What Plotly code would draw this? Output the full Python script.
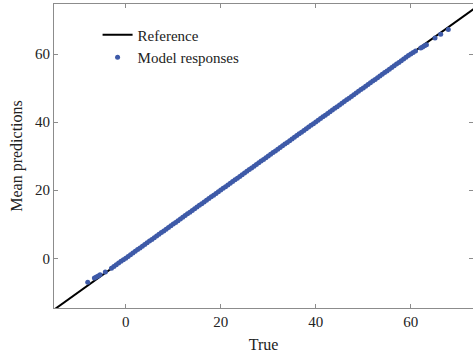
import plotly.graph_objects as go

# Identity reference line endpoints
ref_x = [-16.0, 75.0]
ref_y = [-16.0, 75.0]

# Model responses: true value vs. mean prediction
true_vals = [
    -8.0, -6.6, -6.2, -5.8, -5.4, -4.3,
    -3.0, -2.5, -2.0, -1.5, -1.0, -0.5, 0.0, 0.5, 1.0, 1.5,
    2.0, 2.5, 3.0, 3.5, 4.0, 4.5, 5.0, 5.5, 6.0, 6.5,
    7.0, 7.5, 8.0, 8.5, 9.0, 9.5, 10.0, 10.5, 11.0, 11.5,
    12.0, 12.5, 13.0, 13.5, 14.0, 14.5, 15.0, 15.5, 16.0, 16.5,
    17.0, 17.5, 18.0, 18.5, 19.0, 19.5, 20.0, 20.5, 21.0, 21.5,
    22.0, 22.5, 23.0, 23.5, 24.0, 24.5, 25.0, 25.5, 26.0, 26.5,
    27.0, 27.5, 28.0, 28.5, 29.0, 29.5, 30.0, 30.5, 31.0, 31.5,
    32.0, 32.5, 33.0, 33.5, 34.0, 34.5, 35.0, 35.5, 36.0, 36.5,
    37.0, 37.5, 38.0, 38.5, 39.0, 39.5, 40.0, 40.5, 41.0, 41.5,
    42.0, 42.5, 43.0, 43.5, 44.0, 44.5, 45.0, 45.5, 46.0, 46.5,
    47.0, 47.5, 48.0, 48.5, 49.0, 49.5, 50.0, 50.5, 51.0, 51.5,
    52.0, 52.5, 53.0, 53.5, 54.0, 54.5, 55.0, 55.5, 56.0, 56.5,
    57.0, 57.5, 58.0, 58.5, 59.0, 59.5, 60.0, 60.5, 61.0,
    62.1, 62.5, 62.9, 63.3, 65.1, 66.3, 67.9,
]
mean_preds = [
    -7.0, -5.8, -5.5, -5.2, -4.8, -4.0,
    -2.9, -2.4, -1.9, -1.4, -0.9, -0.4, 0.05, 0.55, 1.05, 1.55,
    2.05, 2.55, 3.05, 3.55, 4.05, 4.55, 5.05, 5.55, 6.05, 6.55,
    7.05, 7.55, 8.05, 8.55, 9.05, 9.55, 10.05, 10.55, 11.05, 11.55,
    12.05, 12.55, 13.05, 13.55, 14.05, 14.55, 15.05, 15.55, 16.05, 16.55,
    17.05, 17.55, 18.05, 18.55, 19.05, 19.55, 20.05, 20.55, 21.05, 21.55,
    22.05, 22.55, 23.05, 23.55, 24.05, 24.55, 25.05, 25.55, 26.05, 26.55,
    27.05, 27.55, 28.05, 28.55, 29.05, 29.55, 30.05, 30.55, 31.05, 31.55,
    32.05, 32.55, 33.05, 33.55, 34.05, 34.55, 35.05, 35.55, 36.05, 36.55,
    37.05, 37.55, 38.05, 38.55, 39.05, 39.55, 40.05, 40.55, 41.05, 41.55,
    42.05, 42.55, 43.05, 43.55, 44.05, 44.55, 45.05, 45.55, 46.05, 46.55,
    47.05, 47.55, 48.05, 48.55, 49.05, 49.55, 50.05, 50.55, 51.05, 51.55,
    52.05, 52.55, 53.05, 53.55, 54.05, 54.55, 55.05, 55.55, 56.05, 56.55,
    57.05, 57.55, 58.05, 58.55, 59.05, 59.55, 60.0, 60.45, 60.9,
    61.8, 62.1, 62.4, 62.7, 64.7, 65.8, 67.2,
]

tick_vals = [0, 20, 40, 60]
tick_text = ["0", "20", "40", "60"]

FONT = "Liberation Serif"
TEXT = "#222222"
AXIS = "#8c8c8c"

fig = go.Figure()
fig.add_trace(go.Scatter(
    x=ref_x, y=ref_y, mode="lines", name="Reference",
    line=dict(color="black", width=2),
))
fig.add_trace(go.Scatter(
    x=true_vals, y=mean_preds, mode="markers", name="Model responses",
    marker=dict(color="#3e5aa8", size=5, line=dict(width=0)),
))

axis_common = dict(
    showgrid=False, zeroline=False,
    showline=True, linecolor=AXIS, linewidth=1,
    ticks="inside", ticklen=4, tickcolor=AXIS, tickwidth=1,
    mirror="ticks",
    tickvals=tick_vals, ticktext=tick_text,
    tickfont=dict(family=FONT, size=15, color=TEXT),
)

fig.update_layout(
    width=473, height=356,
    margin=dict(l=54, r=0, t=4, b=48),
    paper_bgcolor="white", plot_bgcolor="white",
    font=dict(family=FONT, size=15, color=TEXT),
    xaxis=dict(range=[-15.1, 73.1],
               title=dict(text="True", font=dict(family=FONT, size=16, color=TEXT), standoff=9),
               **axis_common),
    yaxis=dict(range=[-14.6, 74.7],
               title=dict(text="Mean predictions", font=dict(family=FONT, size=16, color=TEXT), standoff=8),
               **axis_common),
    legend=dict(x=0.104, y=0.952, xanchor="left", yanchor="top",
                bgcolor="rgba(0,0,0,0)", borderwidth=0,
                font=dict(family=FONT, size=15, color=TEXT)),
    showlegend=True,
)

fig.write_html("out.html")
